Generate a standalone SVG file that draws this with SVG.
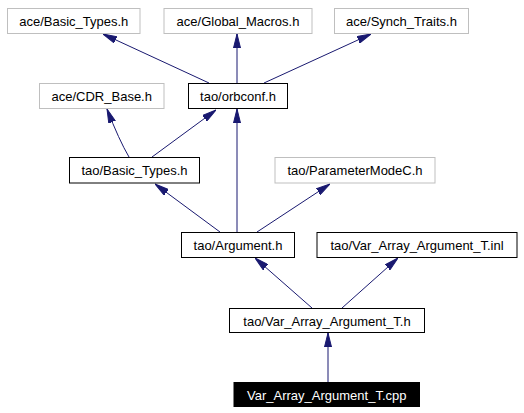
<svg xmlns="http://www.w3.org/2000/svg" width="524" height="413" viewBox="0 0 524 413">
<style>
  .box { fill: #ffffff; stroke: #000000; stroke-width: 1; }
  .ext { fill: #ffffff; stroke: #bfbfbf; stroke-width: 1; }
  .cur { fill: #000000; stroke: #000000; stroke-width: 1; }
  text { font-family: "Liberation Sans", Arial, sans-serif; font-size: 13px; text-anchor: middle; fill: #000000; }
  .white { fill: #ffffff; }
  .edge { fill: none; stroke: #191970; stroke-width: 1; marker-end: url(#arr); }
</style>
<defs>
  <marker id="arr" markerUnits="userSpaceOnUse" viewBox="0 0 14 8" refX="14" refY="4" markerWidth="14" markerHeight="8" orient="auto">
    <path d="M0,0.5 L14,4 L0,7.5 Z" fill="#191970" stroke="#191970" stroke-width="1"/>
  </marker>
</defs>
<rect width="524" height="413" fill="#ffffff"/>
<g id="edges">
  <path class="edge" d="M209,83 L103,34"/>
  <path class="edge" d="M237,83 L237,34"/>
  <path class="edge" d="M264,83 L371,34"/>
  <path class="edge" d="M129,157 Q119,140 107,109"/>
  <path class="edge" d="M152,157 L216,110"/>
  <path class="edge" d="M237,232 L237,109"/>
  <path class="edge" d="M220,232 L155,184"/>
  <path class="edge" d="M257,232 L330,184"/>
  <path class="edge" d="M312,308 L255,258"/>
  <path class="edge" d="M342,308 L398,258"/>
  <path class="edge" d="M328,382 L328,333"/>
</g>
<g id="ace_basic_types">
  <rect class="ext" x="7.5" y="8.5" width="132.5" height="25"/>
  <text x="73.75" y="25.5">ace/Basic_Types.h</text>
</g>
<g id="ace_global_macros">
  <rect class="ext" x="164" y="8.5" width="148" height="25"/>
  <text x="238" y="25.5">ace/Global_Macros.h</text>
</g>
<g id="ace_synch_traits">
  <rect class="ext" x="334.5" y="8.5" width="134" height="25"/>
  <text x="401.5" y="25.5">ace/Synch_Traits.h</text>
</g>
<g id="ace_cdr_base">
  <rect class="ext" x="39.5" y="83.5" width="124.5" height="25"/>
  <text x="101.75" y="100.5">ace/CDR_Base.h</text>
</g>
<g id="tao_orbconf">
  <rect class="box" x="188.5" y="83.5" width="99" height="25"/>
  <text x="238" y="100.5">tao/orbconf.h</text>
</g>
<g id="tao_basic_types">
  <rect class="box" x="69.5" y="157.5" width="130" height="25.5"/>
  <text x="134.5" y="174.5">tao/Basic_Types.h</text>
</g>
<g id="tao_parametermodec">
  <rect class="ext" x="275" y="157.5" width="160" height="25.5"/>
  <text x="355" y="174.5">tao/ParameterModeC.h</text>
</g>
<g id="tao_argument">
  <rect class="box" x="181.5" y="232.5" width="113" height="25"/>
  <text x="238" y="249.5">tao/Argument.h</text>
</g>
<g id="tao_var_array_argument_t_inl">
  <rect class="box" x="317" y="232.5" width="200" height="25"/>
  <text x="417" y="249.5">tao/Var_Array_Argument_T.inl</text>
</g>
<g id="tao_var_array_argument_t_h">
  <rect class="box" x="229.5" y="308.5" width="195" height="24"/>
  <text x="327" y="325.5">tao/Var_Array_Argument_T.h</text>
</g>
<g id="var_array_argument_t_cpp">
  <rect class="cur" x="234" y="382.5" width="185.5" height="24"/>
  <text class="white" x="326.75" y="399.5">Var_Array_Argument_T.cpp</text>
</g>
</svg>
